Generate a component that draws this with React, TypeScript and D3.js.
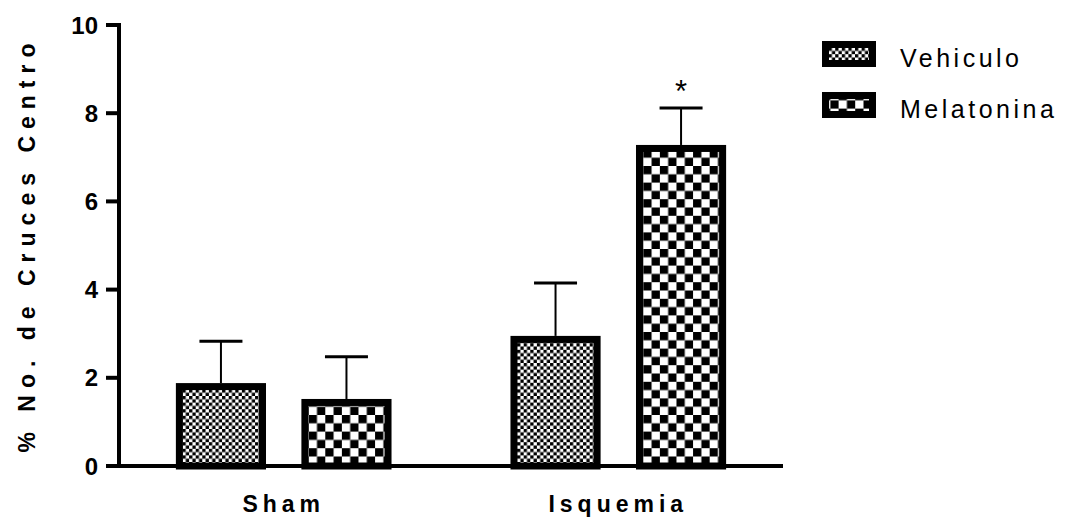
import React from 'react';
import * as d3 from 'd3';

// chart values
const groups = ['Sham', 'Isquemia'];
const series = ['Vehiculo', 'Melatonina'];
const vehiculoMean = [1.88, 2.95];
const vehiculoSem = [0.95, 1.2];
const melatoninaMean = [1.52, 7.28];
const melatoninaSem = [0.96, 0.84];
const yTicks = [0, 2, 4, 6, 8, 10];
const significant = [[], ['Melatonina']];

const W = 1069;
const H = 517;
const FONT = "Arial, 'Liberation Sans', sans-serif";
const BORDER = 7;

const App = () => {
  const y = d3.scaleLinear().domain([0, 10]).range([466, 25]);
  const x = d3.scaleBand<string>()
    .domain(groups)
    .range([119, 783])
    .paddingInner(0.3555)
    .paddingOuter(0.17);
  const xInner = d3.scaleBand<string>()
    .domain(series)
    .range([0, x.bandwidth()])
    .paddingInner(0.282);

  const means = [vehiculoMean, melatoninaMean];
  const sems = [vehiculoSem, melatoninaSem];
  const patternId = (s: string) => `pat-${s}`;

  return (
    <svg width={W} height={H} style={{ position: 'absolute', left: 0, top: 0 }}>
      <defs>
        <pattern id="pat-Vehiculo" width={6.6} height={6.6} patternUnits="userSpaceOnUse">
          <rect width={6.6} height={6.6} fill="#fff" />
          <rect width={3.3} height={3.3} fill="#000" />
          <rect x={3.3} y={3.3} width={3.3} height={3.3} fill="#000" />
        </pattern>
        <pattern id="pat-Melatonina" width={16.6} height={16.6} patternUnits="userSpaceOnUse">
          <rect width={16.6} height={16.6} fill="#fff" />
          <rect width={8.3} height={8.3} fill="#000" />
          <rect x={8.3} y={8.3} width={8.3} height={8.3} fill="#000" />
        </pattern>
      </defs>

      {/* bars + error bars */}
      {groups.map((g, gi) => (
        <g key={g} transform={`translate(${x(g)},0)`}>
          {series.map((s, si) => {
            const v = means[si][gi];
            const e = sems[si][gi];
            const bx = xInner(s)!;
            const bw = xInner.bandwidth();
            const cx = bx + bw / 2;
            return (
              <g key={s}>
                <line x1={cx} x2={cx} y1={y(v)} y2={y(v + e)} stroke="#000" strokeWidth={2} />
                <line x1={cx - 21.5} x2={cx + 21.5} y1={y(v + e)} y2={y(v + e)} stroke="#000" strokeWidth={3} />
                <rect
                  x={bx + BORDER / 2}
                  y={y(v) + BORDER / 2}
                  width={bw - BORDER}
                  height={y(0) - y(v) - BORDER / 2}
                  fill={`url(#${patternId(s)})`}
                  stroke="#000"
                  strokeWidth={BORDER}
                />
                {significant[gi].includes(s) && (
                  <text x={cx} y={y(v + e) - 6} textAnchor="middle" fontFamily={FONT} fontSize={31}>*</text>
                )}
              </g>
            );
          })}
        </g>
      ))}

      {/* y axis */}
      <line x1={119} x2={119} y1={y(10) - 2} y2={y(0)} stroke="#000" strokeWidth={4} />
      {yTicks.map(t => (
        <g key={t}>
          <line x1={106} x2={119} y1={y(t)} y2={y(t)} stroke="#000" strokeWidth={4} />
          <text x={98} y={y(t)} dy="0.36em" textAnchor="end" fontFamily={FONT} fontWeight="bold" fontSize={24}>{t}</text>
        </g>
      ))}
      <text
        transform="translate(35,248) rotate(-90)"
        textAnchor="middle"
        dx={3.5}
        fontFamily={FONT}
        fontWeight="bold"
        fontSize={23}
        letterSpacing={7}
      >% No. de Cruces Centro</text>

      {/* x axis */}
      <line x1={106} x2={783} y1={y(0)} y2={y(0)} stroke="#000" strokeWidth={4} />
      {groups.map(g => (
        <text
          key={g}
          x={x(g)! + x.bandwidth() / 2}
          y={512}
          dx={0}
          textAnchor="middle"
          fontFamily={FONT}
          fontWeight="bold"
          fontSize={23}
          letterSpacing={5}
        >{g}</text>
      ))}

      {/* legend */}
      {series.map((s, i) => (
        <g key={s} transform={`translate(822,${41 + i * 51})`}>
          <rect
            x={BORDER / 2}
            y={BORDER / 2}
            width={54 - BORDER}
            height={26 - BORDER}
            fill={`url(#${patternId(s)})`}
            stroke="#000"
            strokeWidth={BORDER}
          />
          <text x={78} y={26} fontFamily={FONT} fontSize={25} letterSpacing={3.5}>{s}</text>
        </g>
      ))}
    </svg>
  );
};

export default App;
